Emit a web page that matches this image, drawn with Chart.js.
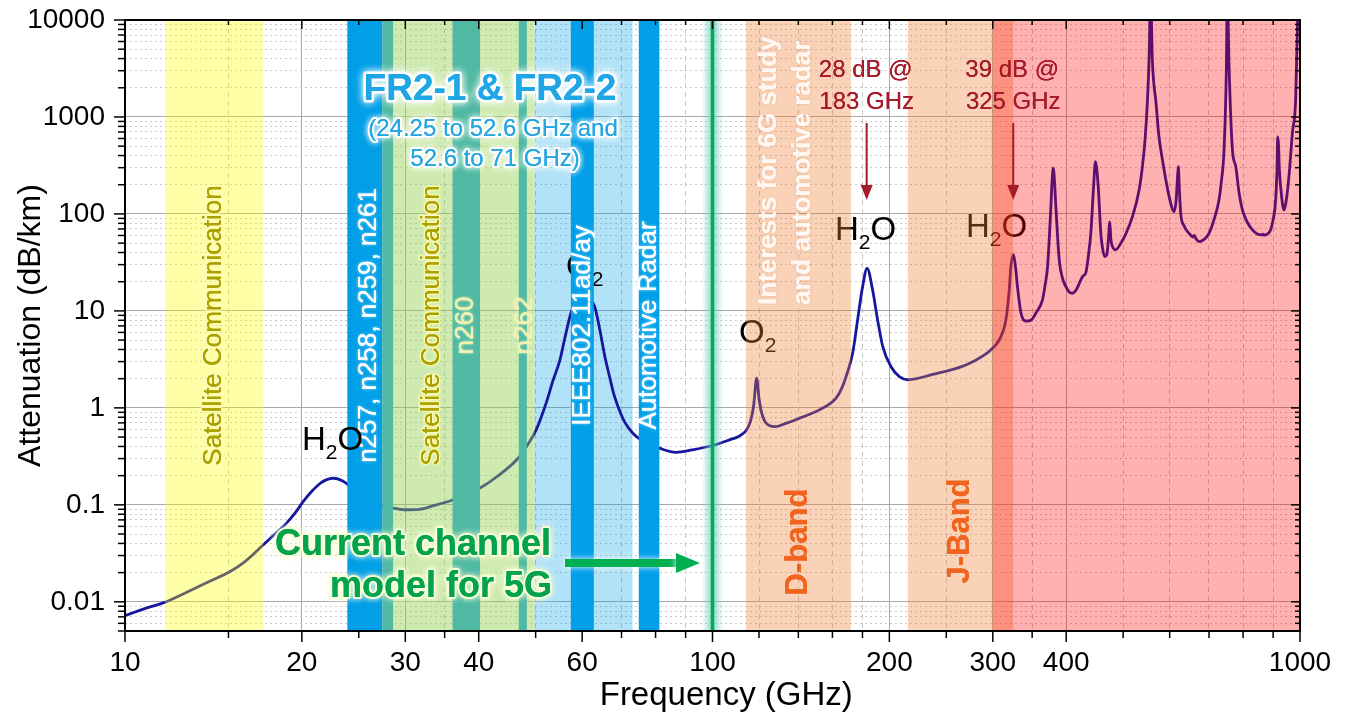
<!DOCTYPE html>
<html>
<head>
<meta charset="utf-8">
<script src="https://cdn.jsdelivr.net/npm/chart.js@4.4.1/dist/chart.umd.min.js"></script>
<style>
  html, body { margin: 0; padding: 0; background: #fff; }
  #wrap { width: 1348px; height: 722px; }
</style>
</head>
<body>
<div id="wrap"><canvas id="chart" width="1348" height="722"></canvas></div>
<script>
// specific attenuation (sea level)
const freqGHz = [
  10, 11, 11.7, 13, 14, 15.1, 16, 17.2, 18, 18.8,
  19.5, 20.1, 20.8, 21.5, 22, 22.6, 23.2, 23.8, 24.5, 25.5,
  26.5, 27.5, 28.6, 30, 31.7, 33.5, 36.2, 38, 40.2, 43,
  46.5, 48.5, 50.1, 52.1, 53.5, 55, 56.2, 57.4, 58.5, 60,
  61.5, 63, 64.3, 65.5, 66.8, 68, 69.4, 71, 73.2, 75.2,
  78, 81.2, 86.6, 92.4, 100, 106.9, 111, 114, 116, 117.5,
  118.9, 120, 121.2, 123.4, 127.7, 134, 140.7, 152, 162.3, 166,
  168.8, 173.2, 176.6, 180.1, 183.3, 187.3, 191, 194.9, 201.2, 208,
  214.8, 237, 270, 290, 299.7, 307.6, 315.8, 319.9, 322, 325.3,
  328, 330.4, 335, 341.7, 348.8, 355, 364.5, 368, 371.8, 376.7,
  378.5, 380.2, 382, 384.1, 389.2, 394, 399.5, 405, 410, 416,
  423.6, 427, 432, 437, 440.5, 445.3, 448.5, 453.5, 458.1, 461,
  465, 469, 472, 474.5, 476.5, 479.7, 485.3, 495.5, 505, 518.6,
  532.3, 539.2, 545, 550, 553.5, 556.9, 560.5, 564, 568.1, 575,
  583.3, 598.8, 610.6, 615.5, 618.5, 620.7, 623, 626.6, 635, 647.4,
  658, 660.5, 664.6, 673.3, 685, 700, 715, 728, 735, 742.5,
  749.4, 752, 757.3, 767.4, 777.6, 787, 798, 812, 830, 846,
  862.8, 866, 869, 880, 891, 901, 909, 914, 916.5, 919.5,
  922, 926.9, 939.3, 945, 951, 960, 970.4, 983, 990, 997,
  1000
];
const attenDbKm = [
  0.0072, 0.0088, 0.0099, 0.0133, 0.0165, 0.0205, 0.026, 0.0387, 0.05, 0.064,
  0.083, 0.108, 0.138, 0.167, 0.181, 0.188, 0.182, 0.167, 0.14, 0.117,
  0.102, 0.095, 0.0925, 0.089, 0.09, 0.098, 0.113, 0.128, 0.149, 0.196,
  0.295, 0.42, 0.593, 1.12, 1.9, 3.13, 5.6, 9.46, 12.5, 14.5,
  13.5, 11.1, 6.4, 3.5, 2.1, 1.35, 0.95, 0.7, 0.548, 0.475,
  0.42, 0.384, 0.348, 0.369, 0.409, 0.468, 0.51, 0.58, 0.72, 1.05,
  2.02, 1.25, 0.9, 0.695, 0.64, 0.7, 0.784, 0.953, 1.26, 1.6,
  2.1, 3.66, 8.07, 17.8, 27.5, 16.4, 8.07, 4.29, 2.67, 2.1,
  1.95, 2.21, 2.77, 3.5, 4.12, 5.02, 8.1, 16.4, 28.7, 38,
  28, 17.8, 9.5, 7.87, 8.07, 9.46, 13, 18, 28.6, 119,
  220, 296, 220, 119, 33.6, 22, 17.8, 15.6, 15.2, 16.5,
  20.9, 22.8, 24.8, 40, 63, 191, 346, 191, 63, 45,
  36.3, 38, 55, 83, 55, 46, 42.6, 49.8, 62, 93.7,
  176.6, 307, 600, 1497, 4000, 20000, 4000, 2200, 1497, 650,
  360, 151, 105.7, 140, 230, 307, 190, 101.6, 75, 63,
  58, 60, 56.1, 51.8, 54, 63, 90, 139, 220, 457,
  3300, 20000, 3300, 457, 307, 170, 110, 84, 68.4, 62,
  60.8, 62, 60.5, 62, 68.4, 90, 139, 300, 627, 500,
  300, 191, 110, 125, 163, 290, 679, 1497, 8500, 20000,
  25000
];

// axis ticks
const xTickLabels = [10, 20, 30, 40, 60, 100, 200, 300, 400, 1000];
const xMinorTicks = [15, 25, 35, 50, 70, 80, 90, 120, 140, 160, 180, 250, 350, 500, 600, 700, 800, 900];
const yTickLabels = [0.01, 0.1, 1, 10, 100, 1000, 10000];
const yMinorTicks = [0.005, 0.006, 0.007, 0.008, 0.009];
yTickLabels.slice(0, -1).forEach(d => {
  for (let m = 2; m <= 9; m++) yMinorTicks.push(+(d * m).toPrecision(3));
});

// frequency bands in GHz [from, to]
const satBands = [[11.7, 17.2]];
const satGreenBands = [[28.6, 49.8]];
const fr2Bands = [[49.8, 73.1]];
const blueBands = [[23.9, 27.4], [57.4, 62.8], [74.9, 81.2]];
const tealBands = [[27.4, 28.6], [36.1, 40.2], [46.8, 48.3]];
const dBands = [[114, 172]];
const jBands = [[215, 325]];
const thzBands = [[300, 1000]];
const channelModelLimit = 100;
const peakNotes = [[183, '28 dB @', '183 GHz'], [325, '39 dB @', '325 GHz']];

const FONT = '"Liberation Sans", Arial, Helvetica, sans-serif';
Chart.defaults.font.family = FONT;
Chart.defaults.color = '#000';

function fillBands(chart, bands, color) {
  const { ctx, chartArea: a } = chart;
  const xs = chart.scales.x;
  ctx.fillStyle = color;
  bands.forEach(([lo, hi]) => {
    const x1 = xs.getPixelForValue(lo), x2 = xs.getPixelForValue(hi);
    ctx.fillRect(x1, a.top, x2 - x1, a.bottom - a.top);
  });
}

function bandMid(chart, band) {
  const xs = chart.scales.x;
  return (xs.getPixelForValue(band[0]) + xs.getPixelForValue(band[1])) / 2;
}

// text with an optional soft halo, optionally rotated to read bottom-up
function label(ctx, text, x, y, o) {
  ctx.save();
  ctx.translate(x, y);
  if (o.rot) ctx.rotate(-Math.PI / 2);
  ctx.font = o.font;
  ctx.textAlign = o.align || 'center';
  ctx.textBaseline = o.baseline || 'middle';
  if (o.halo) {
    ctx.lineJoin = 'round';
    ctx.shadowColor = o.halo;
    ctx.shadowBlur = o.blur || 4;
    if (o.haloW) {
      ctx.strokeStyle = o.halo;
      ctx.lineWidth = o.haloW;
      ctx.strokeText(text, 0, 0);
    }
  }
  ctx.fillStyle = o.fill;
  ctx.fillText(text, 0, 0);
  ctx.shadowBlur = 0;
  ctx.fillText(text, 0, 0);
  ctx.restore();
}

// chemical formula with subscripts, parts = [[text, isSub], ...]
function formula(ctx, parts, x, y, color) {
  ctx.save();
  ctx.fillStyle = color || '#000';
  ctx.textAlign = 'left';
  ctx.textBaseline = 'alphabetic';
  let cx = x;
  parts.forEach(([t, sub]) => {
    ctx.font = (sub ? '21px ' : '33px ') + FONT;
    ctx.fillText(t, cx, sub ? y + 9 : y);
    cx += ctx.measureText(t).width;
  });
  ctx.restore();
}

function arrowDown(ctx, x, y1, y2, color) {
  ctx.save();
  ctx.strokeStyle = color; ctx.fillStyle = color; ctx.lineWidth = 2;
  ctx.beginPath(); ctx.moveTo(x, y1); ctx.lineTo(x, y2 - 12); ctx.stroke();
  ctx.beginPath(); ctx.moveTo(x - 6, y2 - 15); ctx.lineTo(x + 6, y2 - 15); ctx.lineTo(x, y2); ctx.closePath(); ctx.fill();
  ctx.restore();
}

const bandPlugin = {
  id: 'bands',
  beforeDatasetsDraw(chart) {
    const { ctx } = chart;
    ctx.save();
    fillBands(chart, fr2Bands, 'rgba(0,160,230,0.3)');
    ctx.restore();
  },
  afterDatasetsDraw(chart) {
    const { ctx, chartArea: a } = chart;
    const xs = chart.scales.x;
    ctx.save();

    // molecule labels sit under the tinted bands
    formula(ctx, [['O'], ['2', true]], 739, 343);
    formula(ctx, [['H'], ['2', true], ['O']], 835, 240);
    formula(ctx, [['H'], ['2', true], ['O']], 966, 237);

    // tinted bands
    fillBands(chart, satBands, 'rgba(255,255,0,0.34)');
    fillBands(chart, satGreenBands, 'rgba(146,208,80,0.45)');
    fillBands(chart, dBands, 'rgba(237,125,49,0.35)');
    fillBands(chart, jBands, 'rgba(237,125,49,0.35)');
    fillBands(chart, thzBands, 'rgba(255,0,0,0.31)');

    // 60 GHz O2 label is half hidden by the 802.11ad band
    formula(ctx, [['O'], ['2', true]], 566, 277);

    // solid allocation bands
    fillBands(chart, blueBands, '#009fe8');
    fillBands(chart, tealBands, '#4fb9a3');

    // current channel model limit
    const x100 = xs.getPixelForValue(channelModelLimit);
    const g = ctx.createLinearGradient(x100 - 11, 0, x100 + 11, 0);
    g.addColorStop(0, 'rgba(120,210,200,0)');
    g.addColorStop(0.5, 'rgba(90,200,185,0.75)');
    g.addColorStop(1, 'rgba(120,210,200,0)');
    ctx.fillStyle = g;
    ctx.fillRect(x100 - 11, a.top, 22, a.bottom - a.top);
    ctx.strokeStyle = '#00ad4f'; ctx.lineWidth = 3.5;
    ctx.beginPath(); ctx.moveTo(x100, a.top); ctx.lineTo(x100, a.bottom); ctx.stroke();

    // band names
    const midY = (a.top + a.bottom) / 2;
    const sat = { rot: true, font: '26px ' + FONT, fill: '#aaa100', halo: '#fdfbb4', haloW: 2, blur: 3 };
    label(ctx, 'Satellite Communication', bandMid(chart, satBands[0]), midY, sat);
    label(ctx, 'Satellite Communication', 432, midY, sat);
    const white = { rot: true, font: '26px ' + FONT, fill: '#fff', halo: 'rgba(200,240,255,0.9)', blur: 3 };
    label(ctx, 'n257, n258, n259, n261', bandMid(chart, blueBands[0]) + 4, midY, white);
    label(ctx, 'IEEE802.11ad/ay', bandMid(chart, blueBands[1]), midY, white);
    label(ctx, 'Automotive Radar', bandMid(chart, blueBands[2]), midY, white);
    const pale = { rot: true, font: '26px ' + FONT, fill: '#f3f1b0', halo: 'rgba(240,250,200,0.9)', blur: 3 };
    label(ctx, 'n260', bandMid(chart, tealBands[1]), midY, pale);
    label(ctx, 'n262', bandMid(chart, tealBands[2]) + 2, midY, pale);

    formula(ctx, [['H'], ['2', true], ['O']], 302, 450);

    const fr2Halo = { font: 'bold 37px ' + FONT, fill: '#1fa6e6', halo: '#ffffff', haloW: 5, blur: 8, baseline: 'alphabetic' };
    label(ctx, 'FR2-1 & FR2-2', 490, 100, fr2Halo);
    const fr2Sub = { font: '24px ' + FONT, fill: '#27a7e2', halo: '#ffffff', haloW: 4, blur: 6, baseline: 'alphabetic' };
    label(ctx, '(24.25 to 52.6 GHz and', 493, 136, fr2Sub);
    label(ctx, '52.6 to 71 GHz)', 495, 166, fr2Sub);

    const interest = { rot: true, align: 'left', font: 'bold 26px ' + FONT, fill: '#fff7f2', halo: 'rgba(232,160,120,0.55)', blur: 3 };
    label(ctx, 'Interests for 6G study', 769, 305, interest);
    label(ctx, 'and automotive radar', 803, 305, interest);

    const bandTag = { rot: true, font: 'bold 31px ' + FONT, fill: '#f0641e' };
    label(ctx, 'D-band', bandMid(chart, dBands[0]), 542, bandTag);
    label(ctx, 'J-Band', bandMid(chart, [jBands[0][0], 325]), 531, bandTag);

    // peak notes
    peakNotes.forEach(([f, l1, l2]) => {
      const px = xs.getPixelForValue(f);
      const note = { font: '24px ' + FONT, fill: '#a51b2a', baseline: 'alphabetic' };
      label(ctx, l1, px - 1, 77, note);
      label(ctx, l2, px, 109, note);
      arrowDown(ctx, px, 123, 200, '#a51b2a');
    });

    // current channel model
    const cg = ctx.createLinearGradient(268, 0, 552, 0);
    cg.addColorStop(0, '#02a24f');
    cg.addColorStop(0.3, '#44c23c');
    cg.addColorStop(0.75, '#44c23c');
    cg.addColorStop(1, '#07a64c');
    const cm = { font: 'bold 36px ' + FONT, fill: cg, halo: 'rgba(250,255,215,0.95)', haloW: 4, blur: 6, align: 'right', baseline: 'alphabetic' };
    label(ctx, 'Current channel', 551, 555, cm);
    label(ctx, 'model for 5G', 552, 597, cm);
    ctx.save();
    ctx.shadowColor = 'rgba(255,255,255,0.95)'; ctx.shadowBlur = 6;
    ctx.strokeStyle = '#00b050'; ctx.fillStyle = '#00b050'; ctx.lineWidth = 8;
    ctx.beginPath(); ctx.moveTo(565, 563); ctx.lineTo(680, 563); ctx.stroke();
    ctx.beginPath(); ctx.moveTo(676, 553); ctx.lineTo(700, 563); ctx.lineTo(676, 573); ctx.closePath(); ctx.fill();
    ctx.restore();

    ctx.restore();
  },
  afterDraw(chart) {
    const { ctx, chartArea: a, scales } = chart;
    ctx.save();
    ctx.strokeStyle = '#000';
    ctx.lineWidth = 1.5;
    const seg = (x1, y1, x2, y2) => { ctx.beginPath(); ctx.moveTo(x1, y1); ctx.lineTo(x2, y2); ctx.stroke(); };
    scales.x.ticks.forEach(t => { const p = scales.x.getPixelForValue(t.value); seg(p, a.bottom, p, a.bottom + 11); seg(p, a.top, p, a.top + 9); });
    scales.xm.ticks.forEach(t => { const p = scales.xm.getPixelForValue(t.value); seg(p, a.bottom, p, a.bottom + 7); seg(p, a.top, p, a.top + 5); });
    scales.y.ticks.forEach(t => { const p = scales.y.getPixelForValue(t.value); seg(a.left - 11, p, a.left, p); seg(a.right - 9, p, a.right, p); });
    scales.ym.ticks.forEach(t => { const p = scales.ym.getPixelForValue(t.value); seg(a.left - 7, p, a.left, p); seg(a.right - 5, p, a.right, p); });
    ctx.lineWidth = 2;
    ctx.strokeRect(a.left, a.top, a.right - a.left, a.bottom - a.top);
    ctx.restore();
  }
};

new Chart(document.getElementById('chart'), {
  type: 'line',
  data: {
    datasets: [{
      data: freqGHz.map((f, i) => ({ x: f, y: attenDbKm[i] })),
      xAxisID: 'x',
      yAxisID: 'y',
      borderColor: '#16169e',
      borderWidth: 2.8,
      pointRadius: 0,
      fill: false,
      cubicInterpolationMode: 'monotone'
    }]
  },
  options: {
    responsive: false,
    animation: false,
    layout: { padding: { top: 20, right: 48, left: 0, bottom: 0 } },
    plugins: { legend: { display: false }, tooltip: { enabled: false } },
    scales: {
      // label gap comes from an invisible tick mark so it does not pad the plot edges
      x: {
        type: 'logarithmic', position: 'bottom', min: 10, max: 1000,
        afterBuildTicks: s => { s.ticks = xTickLabels.map(v => ({ value: v })); },
        afterFit: s => { s.height = 91; },
        ticks: { autoSkip: false, maxRotation: 0, padding: 0, font: { size: 28 }, color: '#000', callback: v => String(v) },
        grid: { color: '#a9a9a9', lineWidth: 1, drawTicks: true, tickLength: 15, tickColor: 'rgba(0,0,0,0)' },
        border: { display: false },
        // leading spaces nudge the title a little right, as in the original
        title: { display: true, text: '   Frequency (GHz)', font: { size: 33 }, color: '#000', padding: { top: 0, bottom: 6 } }
      },
      xm: {
        type: 'logarithmic', position: 'top', min: 10, max: 1000,
        afterBuildTicks: s => { s.ticks = xMinorTicks.map(v => ({ value: v })); },
        afterFit: s => { s.height = 0; },
        ticks: { display: false },
        grid: { color: '#c6c6c6', lineWidth: 1, drawTicks: false },
        border: { display: false, dash: [5, 4] }
      },
      y: {
        type: 'logarithmic', position: 'left', min: 0.005, max: 10000,
        afterBuildTicks: s => { s.ticks = yTickLabels.map(v => ({ value: v })); },
        afterFit: s => { s.width = 125; },
        ticks: { autoSkip: false, padding: 0, font: { size: 28 }, color: '#000', callback: v => String(v) },
        grid: { color: '#a9a9a9', lineWidth: 1, drawTicks: true, tickLength: 20, tickColor: 'rgba(0,0,0,0)' },
        border: { display: false },
        title: { display: true, text: 'Attenuation (dB/km)', font: { size: 32 }, color: '#000', padding: { top: 12, bottom: 0 } }
      },
      ym: {
        type: 'logarithmic', position: 'right', min: 0.005, max: 10000,
        afterBuildTicks: s => { s.ticks = yMinorTicks.map(v => ({ value: v })); },
        afterFit: s => { s.width = 0; },
        ticks: { display: false },
        grid: { color: '#c9c9c9', lineWidth: 1, drawTicks: false },
        border: { display: false, dash: [2, 3] }
      }
    }
  },
  plugins: [bandPlugin]
});
</script>
</body>
</html>
